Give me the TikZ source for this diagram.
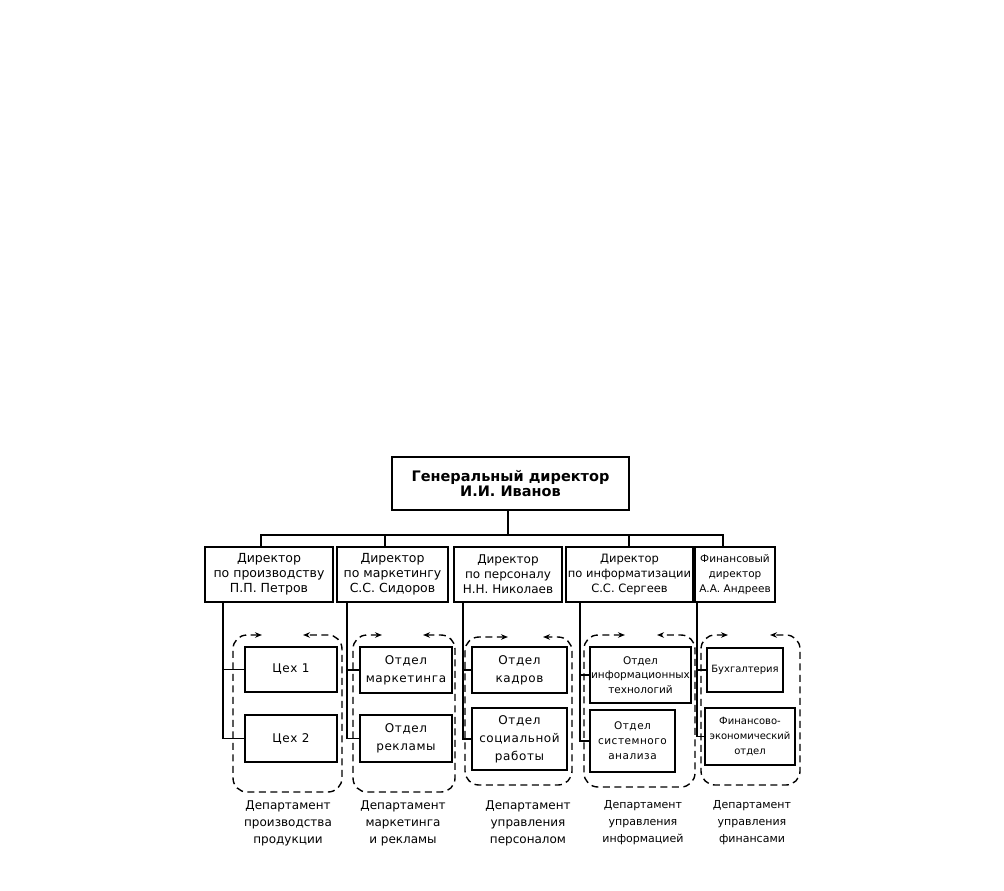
\documentclass[tikz,border=0pt]{standalone}
\usepackage{fontspec}
\setmainfont{DejaVu Sans}
\newfontfamily\widefont{DejaVu Sans}[LetterSpace=5]
\usetikzlibrary{arrows.meta}
\tikzset{
  topbox/.style={draw, line width=1.7pt, align=center, inner sep=0pt, font=\fontsize{14.5}{15}\selectfont\bfseries},
  dirbox/.style={draw, line width=1.7pt, align=center, inner sep=0pt, font=\fontsize{12.5}{15}\selectfont},
  unitbox/.style={draw, line width=2.3pt, align=center, inner sep=0pt, font=\widefont\fontsize{12}{18}\selectfont},
  smallunit/.style={font=\widefont\fontsize{10.5}{15}\selectfont},
  finunit/.style={font=\fontsize{10}{15}\selectfont},
  conn/.style={line width=1.3pt},
  dept/.style={line width=1.4pt, dash pattern=on 7pt off 4.5pt, rounded corners=14pt, {Stealth[length=7pt,width=5.5pt]}-{Stealth[length=7pt,width=5.5pt]}},
  deptlabel/.style={align=center, inner sep=0pt, font=\fontsize{12}{17}\selectfont}
}
\begin{document}
\begin{tikzpicture}[x=1pt,y=-1pt]
\useasboundingbox (0,0) rectangle (1004,891);
% top
\node[topbox, minimum width=237, minimum height=53] (gd) at (510.5,483.5) {Генеральный директор\\И.И. Иванов};
% directors
\node[dirbox, minimum width=128, minimum height=55] (d1) at (269,574.5) {Директор\\по производству\\П.П. Петров};
\node[dirbox, minimum width=111, minimum height=55] (d2) at (392.5,574.5) {Директор\\по маркетингу\\С.С. Сидоров};
\node[dirbox, minimum width=108, minimum height=55, font=\fontsize{12}{15}\selectfont] (d3) at (508,574.5) {Директор\\по персоналу\\Н.Н. Николаев};
\node[dirbox, minimum width=127, minimum height=55, font=\fontsize{11.5}{15}\selectfont] (d4) at (629.5,574.5) {Директор\\по информатизации\\С.С. Сергеев};
\node[dirbox, minimum width=80, minimum height=55, font=\fontsize{10.5}{15}\selectfont] (d5) at (735,574.5) {Финансовый\\директор\\А.А. Андреев};
% bus
\coordinate (b1) at (261,535);
\coordinate (b2) at (385,535);
\coordinate (b3) at (508,535);
\coordinate (b4) at (629,535);
\coordinate (b5) at (723,535);
\draw[conn] (b3|-gd.south) -- (b3);
\draw[conn] (b1|-d1.north) -- (b1) -- (b5) -- (b5|-d5.north);
\draw[conn] (b2) -- (b2|-d2.north);
\draw[conn] (b4) -- (b4|-d4.north);
% units
\node[unitbox, minimum width=92, minimum height=45] (c11) at (291,669.5) {Цех 1};
\node[unitbox, minimum width=92, minimum height=47] (c12) at (291,738.5) {Цех 2};
\node[unitbox, minimum width=92, minimum height=46] (c21) at (406,670) {Отдел\\маркетинга};
\node[unitbox, minimum width=92, minimum height=47] (c22) at (406,738.5) {Отдел\\рекламы};
\node[unitbox, minimum width=95, minimum height=46] (c31) at (519.5,670) {Отдел\\кадров};
\node[unitbox, minimum width=95, minimum height=62] (c32) at (519.5,739) {Отдел\\социальной\\работы};
\node[unitbox, minimum width=101, minimum height=56, font=\fontsize{10.5}{14.5}\selectfont] (c41) at (640.5,675) {Отдел\\информационных\\технологий};
\node[unitbox, smallunit, minimum width=85, minimum height=62] (c42) at (632.5,741) {Отдел\\системного\\анализа};
\node[unitbox, finunit, minimum width=76, minimum height=44] (c51) at (745,670) {Бухгалтерия};
\node[unitbox, finunit, minimum width=90, minimum height=57] (c52) at (750,736.5) {Финансово-\\экономический\\отдел};
% vertical connectors
\coordinate (v1) at (223,0);
\coordinate (v2) at (347,0);
\coordinate (v3) at (463,0);
\coordinate (v4) at (580,0);
\coordinate (v5) at (697,0);
\draw[conn] (v1|-d1.south) -- (v1|-c12.west) -- (c12.west);
\draw[conn] (v1|-c11.west) -- (c11.west);
\draw[conn] (v2|-d2.south) -- (v2|-c22.west) -- (c22.west);
\draw[conn] (v2|-c21.west) -- (c21.west);
\draw[conn] (v3|-d3.south) -- (v3|-c32.west) -- (c32.west);
\draw[conn] (v3|-c31.west) -- (c31.west);
\draw[conn] (v4|-d4.south) -- (v4|-c42.west) -- (c42.west);
\draw[conn] (v4|-c41.west) -- (c41.west);
\draw[conn] (v5|-d5.south) -- (v5|-c52.west) -- (c52.west);
\draw[conn] (v5|-c51.west) -- (c51.west);
% departments (dashed)
\draw[dept] (262,635) -- (233,635) -- (233,792) -- (342,792) -- (342,635) -- (303,635);
\draw[dept] (382,635) -- (353,635) -- (353,792) -- (455,792) -- (455,635) -- (423,635);
\draw[dept] (508,637) -- (465,637) -- (465,785) -- (572,785) -- (572,637) -- (543,637);
\draw[dept] (625,635) -- (584,635) -- (584,787) -- (695,787) -- (695,635) -- (657,635);
\draw[dept] (728,635) -- (701,635) -- (701,785) -- (800,785) -- (800,635) -- (770,635);
% labels
\node[deptlabel] (l1) at (288,823) {Департамент\\производства\\продукции};
\node[deptlabel] (l2) at (403,823) {Департамент\\маркетинга\\и рекламы};
\node[deptlabel] (l3) at (528,823) {Департамент\\управления\\персоналом};
\node[deptlabel, font=\fontsize{11}{17}\selectfont] (l4) at (643,823) {Департамент\\управления\\информацией};
\node[deptlabel, font=\fontsize{11}{17}\selectfont] (l5) at (752,823) {Департамент\\управления\\финансами};
\end{tikzpicture}
\end{document}
